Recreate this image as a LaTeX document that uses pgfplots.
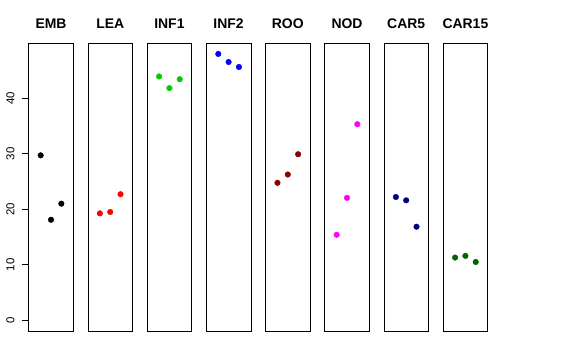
\documentclass[border=0pt]{standalone}
\usepackage{fontspec}
\setmainfont{Liberation Sans}
\usepackage{pgfplots}
\pgfplotsset{compat=1.18}
\definecolor{gthree}{RGB}{0,205,0}
\definecolor{dred}{RGB}{139,0,0}
\definecolor{navyc}{RGB}{0,0,128}
\definecolor{dgreen}{RGB}{0,100,0}
\definecolor{magc}{RGB}{255,0,255}
\definecolor{redc}{RGB}{255,0,0}
\definecolor{bluec}{RGB}{0,0,255}
\pgfplotsset{panel/.style={width=44.6bp, height=288bp, scale only axis,
  xmin=-0.16, xmax=4.16, ymin=-1.92, ymax=49.92,
  xtick=\empty, ytick=\empty,
  axis line style={line width=0.75pt, black},
  title style={font=\bfseries\fontsize{14}{14}\selectfont, at={(0.5,1)}, anchor=base, yshift=9bp},
  anchor=south west}}
\pgfplotsset{dots/.style={only marks, mark=*, mark size=2.8bp, color=#1, mark options={fill=#1, draw=#1}}}
\begin{document}
\begin{tikzpicture}
\useasboundingbox (0,0) rectangle (576bp,360bp);
\begin{axis}[panel, at={(28.7bp,29bp)}, title={EMB},
  ytick={0,10,20,30,40}, ytick pos=left, tick align=outside, major tick length=7bp,
  ytick style={line width=0.75pt, draw=black},
  /pgf/number format/assume math mode=true,
  yticklabel style={rotate=90, anchor=south, font=\fontsize{11.5}{12}\selectfont, inner sep=0pt, yshift=7bp}]
\addplot[dots=black] coordinates {(1,29.7) (2,18.1) (3,21.0)};
\end{axis}
\begin{axis}[panel, at={(87.9bp,29bp)}, title={LEA}]
\addplot[dots=redc] coordinates {(1,19.25) (2,19.5) (3,22.7)};
\end{axis}
\begin{axis}[panel, at={(147.1bp,29bp)}, title={INF1}]
\addplot[dots=gthree] coordinates {(1,43.9) (2,41.8) (3,43.4)};
\end{axis}
\begin{axis}[panel, at={(206.3bp,29bp)}, title={INF2}]
\addplot[dots=bluec] coordinates {(1,47.95) (2,46.5) (3,45.6)};
\end{axis}
\begin{axis}[panel, at={(265.5bp,29bp)}, title={ROO}]
\addplot[dots=dred] coordinates {(1,24.75) (2,26.25) (3,29.9)};
\end{axis}
\begin{axis}[panel, at={(324.7bp,29bp)}, title={NOD}]
\addplot[dots=magc] coordinates {(1,15.4) (2,22.05) (3,35.3)};
\end{axis}
\begin{axis}[panel, at={(383.9bp,29bp)}, title={CAR5}]
\addplot[dots=navyc] coordinates {(1,22.2) (2,21.6) (3,16.85)};
\end{axis}
\begin{axis}[panel, at={(443.1bp,29bp)}, title={CAR15}]
\addplot[dots=dgreen] coordinates {(1,11.3) (2,11.6) (3,10.5)};
\end{axis}
\end{tikzpicture}
\end{document}
